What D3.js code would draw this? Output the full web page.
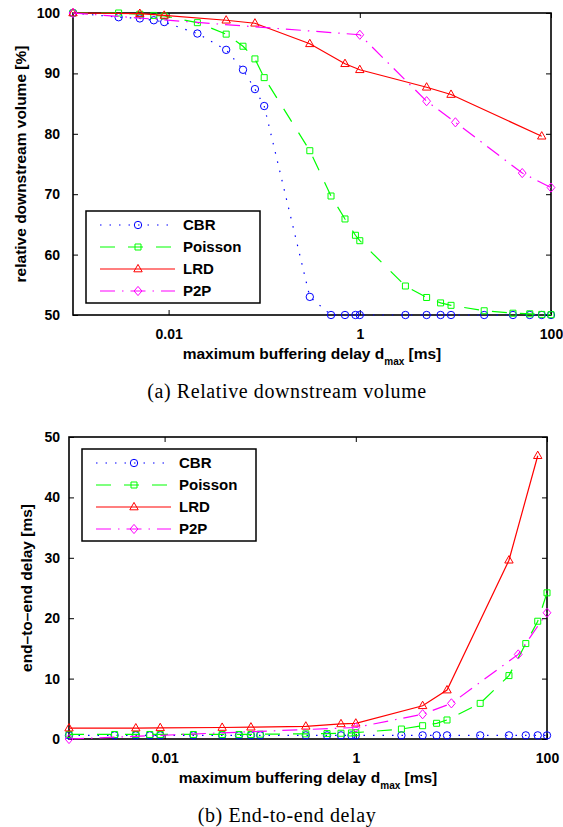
<!DOCTYPE html>
<html>
<head>
<meta charset="utf-8">
<script src="https://cdnjs.cloudflare.com/ajax/libs/d3/7.8.5/d3.min.js"></script>
<style>
body { margin: 0; background: #fff; }
svg text { font-family: "Liberation Sans", Arial, Helvetica, sans-serif; font-weight: bold; fill: #000; }
svg text.caption { font-family: "Liberation Serif", "Times New Roman", serif; font-weight: normal; }
</style>
</head>
<body>
<svg id="fig" width="563" height="827"></svg>
<script>
// maximum buffering delay d_max [ms] (x values)
var delays = [0.001, 0.003, 0.005, 0.007, 0.009, 0.02, 0.04, 0.06, 0.08, 0.1, 0.3, 0.5, 0.7, 0.9, 1, 3, 5, 7, 9, 20, 40, 60, 80, 100];
var lrdDelaysA = [0.001, 0.005, 0.009, 0.04, 0.08, 0.3, 0.7, 1, 5, 9, 80];
var lrdDelaysB = [0.001, 0.005, 0.009, 0.04, 0.08, 0.3, 0.7, 1, 5, 9, 40, 80];
var p2pDelays = [0.001, 1, 5, 10, 50, 100];

// (a) relative downstream volume [%]
var cbrVolume = [100, 99.3, 99.1, 98.8, 98.5, 96.6, 93.9, 90.6, 87.4, 84.6, 53.0, 50, 50, 50, 50, 50, 50, 50, 50, 50, 50, 50, 50, 50];
var poissonVolume = [100, 100, 99.8, 99.6, 99.5, 98.4, 96.5, 94.5, 92.4, 89.3, 77.2, 69.7, 65.9, 63.2, 62.3, 54.8, 52.9, 52.0, 51.6, 50.7, 50.3, 50.2, 50.1, 50.05];
var lrdVolume = [100, 99.9, 99.6, 98.8, 98.3, 94.9, 91.6, 90.6, 87.7, 86.5, 79.6];
var p2pVolume = [100, 96.4, 85.4, 81.9, 73.5, 71.1];

// (b) end-to-end delay [ms]
var cbrE2E = [0.6, 0.6, 0.6, 0.6, 0.6, 0.6, 0.6, 0.6, 0.6, 0.6, 0.6, 0.6, 0.6, 0.6, 0.6, 0.6, 0.6, 0.6, 0.6, 0.6, 0.6, 0.6, 0.6, 0.6];
var poissonE2E = [0.75, 0.75, 0.75, 0.75, 0.75, 0.75, 0.75, 0.75, 0.75, 0.8, 0.85, 0.9, 0.95, 1.0, 1.05, 1.65, 2.2, 2.6, 3.15, 5.9, 10.5, 15.8, 19.5, 24.2];
var lrdE2E = [1.8, 1.8, 1.85, 1.9, 1.95, 2.1, 2.5, 2.6, 5.5, 8.1, 29.6, 46.9];
var p2pE2E = [0, 1.9, 4.1, 5.9, 14.0, 20.9];

var seriesNames = ['CBR', 'Poisson', 'LRD', 'P2P'];
var delayTicks = [0.01, 1, 100];
var delayTickLabels = ['0.01', '1', '100'];
var volumeTicks = [50, 60, 70, 80, 90, 100];
var e2eTicks = [0, 10, 20, 30, 40, 50];

// matlab-ish line specs:  b:o  g--s  r-^  m-.d
var styles = {
    CBR:     {color: '#0000ff', dash: '1.5,8', marker: 'o'},
    Poisson: {color: '#00ff00', dash: '15,13', marker: 's'},
    LRD:     {color: '#ff0000', dash: null, marker: '^'},
    P2P:     {color: '#ff00ff', dash: '15,7,1.5,7', marker: 'd'}
};

function markerPath(m){
    if (m === 'o') return 'M3.7,0A3.7,3.7 0 1 1 -3.7,0A3.7,3.7 0 1 1 3.7,0Z';
    if (m === 's') return 'M-3,-3h6v6h-6Z';
    if (m === '^') return 'M0,-4.6L4.2,2.8L-4.2,2.8Z';
    return 'M0,-4.6L3.9,0L0,4.6L-3.9,0Z';
}

function zip(xs, ys){
    return xs.map(function(x, i){ return {x: x, y: ys[i]}; });
}

var svg = d3.select('#fig');

function drawPanel(cfg){
    var x = d3.scaleLog().domain([0.001, 100]).range([cfg.left, cfg.right]);
    var y = d3.scaleLinear().domain(cfg.yDomain).range([cfg.bottom, cfg.top]);
    var g = svg.append('g');

    // axes box with inward ticks on all four sides
    g.append('rect')
        .attr('x', cfg.left).attr('y', cfg.top)
        .attr('width', cfg.right - cfg.left).attr('height', cfg.bottom - cfg.top)
        .attr('fill', 'none').attr('stroke', '#000').attr('stroke-width', 1.6);

    var axes = [
        {a: d3.axisLeft(y).tickValues(cfg.yTicks).tickPadding(cfg.yPad).tickFormat(d3.format('d')), t: 'translate(' + cfg.left + ',0)'},
        {a: d3.axisRight(y).tickValues(cfg.yTicks).tickFormat(''), t: 'translate(' + cfg.right + ',0)'},
        {a: d3.axisBottom(x).tickValues(delayTicks).tickPadding(14).tickFormat(function(d, i){ return delayTickLabels[i]; }), t: 'translate(0,' + cfg.bottom + ')'},
        {a: d3.axisTop(x).tickValues(delayTicks).tickFormat(''), t: 'translate(0,' + cfg.top + ')'}
    ];
    axes.forEach(function(ax){
        var ag = g.append('g').attr('transform', ax.t).call(ax.a.tickSize(-5));
        ag.select('.domain').remove();
        ag.selectAll('line').attr('stroke', '#000').attr('stroke-width', 1);
        ag.selectAll('text').attr('font-size', 14).attr('font-family', null);
    });

    // data
    cfg.series.forEach(function(s){
        var st = styles[s.name];
        var pts = zip(s.xs, s.ys);
        var line = d3.line().x(function(d){ return x(d.x); }).y(function(d){ return y(d.y); });
        g.append('path').datum(pts)
            .attr('d', line)
            .attr('fill', 'none')
            .attr('stroke', st.color)
            .attr('stroke-width', 1.2)
            .attr('stroke-dasharray', st.dash);
        g.selectAll(null).data(pts).enter().append('path')
            .attr('d', markerPath(st.marker))
            .attr('transform', function(d){ return 'translate(' + x(d.x) + ',' + y(d.y) + ')'; })
            .attr('fill', 'none')
            .attr('stroke', st.color)
            .attr('stroke-width', 1);
    });

    // legend
    var lg = g.append('g').attr('transform', 'translate(' + cfg.legend[0] + ',' + cfg.legend[1] + ')');
    lg.append('rect').attr('width', 174).attr('height', 92)
        .attr('fill', '#fff').attr('stroke', '#000').attr('stroke-width', 1.5);
    seriesNames.forEach(function(name, i){
        var st = styles[name];
        var ry = 14 + i * 22;
        lg.append('line').attr('x1', 14).attr('x2', 89).attr('y1', ry).attr('y2', ry)
            .attr('stroke', st.color).attr('stroke-width', 1.2).attr('stroke-dasharray', st.dash);
        lg.append('path').attr('d', markerPath(st.marker))
            .attr('transform', 'translate(52,' + ry + ')')
            .attr('fill', 'none').attr('stroke', st.color);
        lg.append('text').attr('x', 97).attr('y', ry).attr('dy', '0.36em')
            .attr('font-size', 15).text(name);
    });

    // labels
    var mid = (cfg.left + cfg.right) / 2;
    var xl = g.append('text').attr('x', mid).attr('y', cfg.bottom + 44)
        .attr('text-anchor', 'middle').attr('font-size', 15.5);
    xl.append('tspan').text('maximum buffering delay d');
    xl.append('tspan').attr('dy', 6).attr('font-size', 10).text('max');
    xl.append('tspan').attr('dy', -6).text(' [ms]');

    g.append('text')
        .attr('transform', 'translate(' + cfg.ylabelX + ',' + (cfg.top + cfg.bottom) / 2 + ') rotate(-90)')
        .attr('text-anchor', 'middle').attr('dy', '0.36em')
        .attr('font-size', 15.5).text(cfg.ylabel);

    g.append('text').attr('class', 'caption')
        .attr('x', 287).attr('y', cfg.bottom + 83)
        .attr('text-anchor', 'middle').attr('font-size', 20)
        .attr('letter-spacing', 0.6)
        .text(cfg.caption);
}

drawPanel({
    left: 73, right: 551, top: 13, bottom: 315,
    yDomain: [50, 100], yTicks: volumeTicks, yPad: 13,
    ylabel: 'relative downstream volume [%]', ylabelX: 20,
    caption: '(a) Relative downstream volume',
    legend: [86, 211],
    series: [
        {name: 'CBR', xs: delays, ys: cbrVolume},
        {name: 'Poisson', xs: delays, ys: poissonVolume},
        {name: 'LRD', xs: lrdDelaysA, ys: lrdVolume},
        {name: 'P2P', xs: p2pDelays, ys: p2pVolume}
    ]
});

drawPanel({
    left: 69, right: 547, top: 437, bottom: 739,
    yDomain: [0, 50], yTicks: e2eTicks, yPad: 9,
    ylabel: 'end\u2013to\u2013end delay [ms]', ylabelX: 26,
    caption: '(b) End-to-end delay',
    legend: [82, 449],
    series: [
        {name: 'CBR', xs: delays, ys: cbrE2E},
        {name: 'Poisson', xs: delays, ys: poissonE2E},
        {name: 'LRD', xs: lrdDelaysB, ys: lrdE2E},
        {name: 'P2P', xs: p2pDelays, ys: p2pE2E}
    ]
});
</script>
</body>
</html>
